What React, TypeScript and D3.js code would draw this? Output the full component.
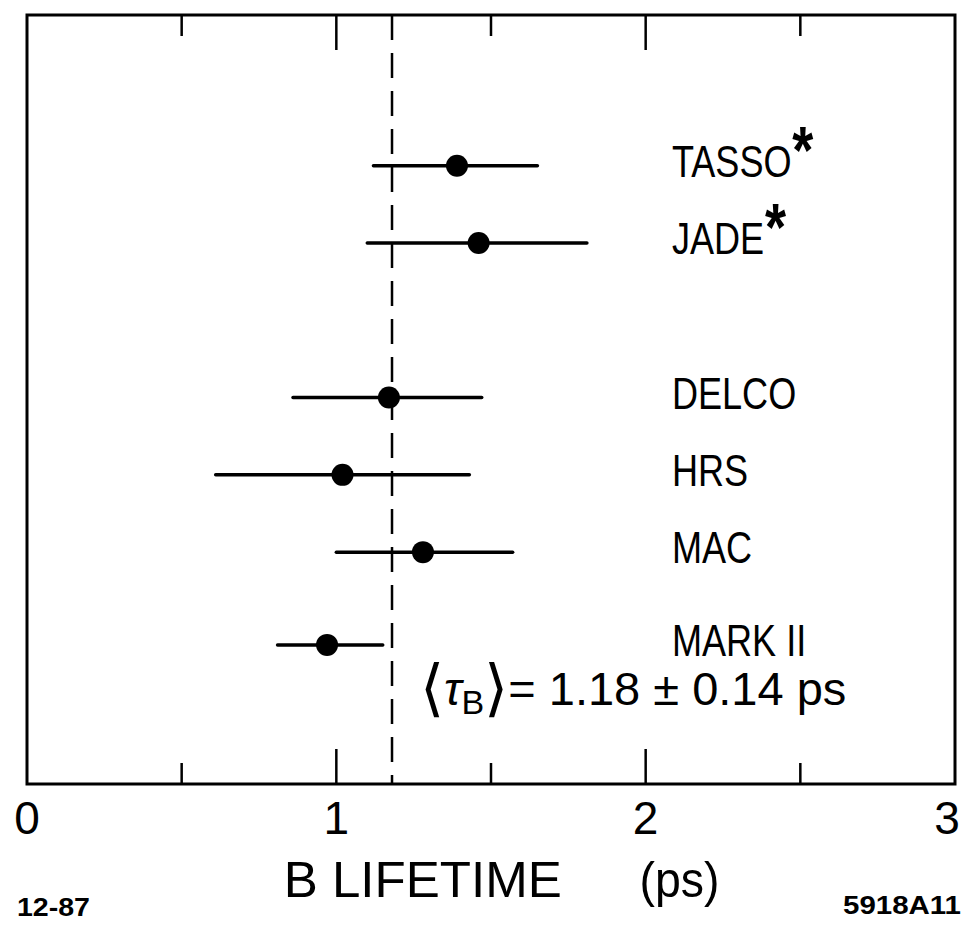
import React from 'react';
import * as d3 from 'd3';

const experiments = ['TASSO', 'JADE', 'DELCO', 'HRS', 'MAC', 'MARK II'];
const starred = [true, true, false, false, false, false];
const rowPos = [1, 2, 4, 5, 6, 7.2];
const lifetime = [1.39, 1.46, 1.17, 1.02, 1.28, 0.97];
const lowEdge = [1.12, 1.10, 0.86, 0.61, 1.0, 0.81];
const highEdge = [1.65, 1.81, 1.47, 1.43, 1.57, 1.15];

const average = 1.18;
const averageErr = 0.14;

const majorTicks = [0, 1, 2, 3];
const minorTicks = [0.5, 1.5, 2.5];
const tickLabels = ['0', '1', '2', '3'];

const W = 967;
const H = 938;
const FONT = '"Liberation Sans", Arial, sans-serif';

const App: React.FC = () => {
    const margin = { top: 15, right: 12, bottom: 154, left: 27 };

    const x = d3.scaleLinear()
        .domain([0, 3])
        .range([margin.left, W - margin.right]);

    const y = d3.scaleLinear()
        .domain([-0.95, 9.0])
        .range([margin.top, H - margin.bottom]);

    const top = y(-0.95);
    const bottom = y(9.0);
    const labelX = x(2.085);

    return (
        <svg width={W} height={H} style={{ position: 'absolute', left: 0, top: 0, background: '#fff' }}>
            {/* frame */}
            <rect x={x(0)} y={top} width={x(3) - x(0)} height={bottom - top}
                  fill="none" stroke="#000" strokeWidth={3} />

            {/* ticks, top and bottom, pointing inward */}
            {majorTicks.filter(t => t > 0 && t < 3).map(t => (
                <g key={'M' + t} stroke="#000" strokeWidth={2.5}>
                    <line x1={x(t)} x2={x(t)} y1={top} y2={top + 35} />
                    <line x1={x(t)} x2={x(t)} y1={bottom} y2={bottom - 35} />
                </g>
            ))}
            {minorTicks.map(t => (
                <g key={'m' + t} stroke="#000" strokeWidth={2.5}>
                    <line x1={x(t)} x2={x(t)} y1={top} y2={top + 21} />
                    <line x1={x(t)} x2={x(t)} y1={bottom} y2={bottom - 21} />
                </g>
            ))}

            {/* average lifetime */}
            <line x1={x(average)} x2={x(average)} y1={top} y2={bottom}
                  stroke="#000" strokeWidth={2.5} strokeDasharray="25 13" />

            {/* measurements */}
            {experiments.map((name, i) => (
                <g key={name}>
                    <line x1={x(lowEdge[i])} x2={x(highEdge[i])} y1={y(rowPos[i])} y2={y(rowPos[i])}
                          stroke="#000" strokeWidth={3.5} strokeLinecap="round" />
                    <circle cx={x(lifetime[i])} cy={y(rowPos[i])} r={11} fill="#000" />
                    <text transform={`translate(${labelX},${y(rowPos[i]) + 11}) scale(0.82,1)`}
                          fontFamily={FONT} fontSize={44} fill="#000">
                        {name}
                        {starred[i] && <tspan fontWeight="bold" fontSize={66} dy={-4} dx={1}>*</tspan>}
                    </text>
                </g>
            ))}

            {/* average annotation */}
            <text x={x(average) + 28} y={y(7.98)} fontFamily={FONT} fontSize={47} fill="#000">
                <tspan fontSize={62} dy={4}>⟨</tspan>
                <tspan fontStyle="italic" dy={-4}>τ</tspan>
                <tspan fontSize={34} dy={9}>B</tspan>
                <tspan fontSize={62} dy={-5}>⟩</tspan>
                <tspan dy={-4}>{`= ${average.toFixed(2)} ± ${averageErr.toFixed(2)} ps`}</tspan>
            </text>

            {/* tick labels */}
            {majorTicks.map((t, i) => (
                <text key={'l' + t} x={Math.min(x(t), W - 20)} y={bottom + 50} textAnchor="middle"
                      fontFamily={FONT} fontSize={46} fill="#000">
                    {tickLabels[i]}
                </text>
            ))}

            {/* axis title */}
            <text x={x(0.83)} y={H - 41} fontFamily={FONT} fontSize={50} fill="#000"
                  textLength={278} lengthAdjust="spacingAndGlyphs">B LIFETIME</text>
            <text x={x(1.98)} y={H - 41} fontFamily={FONT} fontSize={50} fill="#000"
                  textLength={80} lengthAdjust="spacingAndGlyphs">(ps)</text>

            {/* figure codes */}
            <text x={17} y={H - 22} fontFamily={FONT} fontSize={25} fontWeight="bold" fill="#000"
                  textLength={73} lengthAdjust="spacingAndGlyphs">12-87</text>
            <text x={W - 6} y={H - 24} textAnchor="end" fontFamily={FONT} fontSize={25} fontWeight="bold"
                  fill="#000" textLength={118} lengthAdjust="spacingAndGlyphs">5918A11</text>
        </svg>
    );
};

export default App;
